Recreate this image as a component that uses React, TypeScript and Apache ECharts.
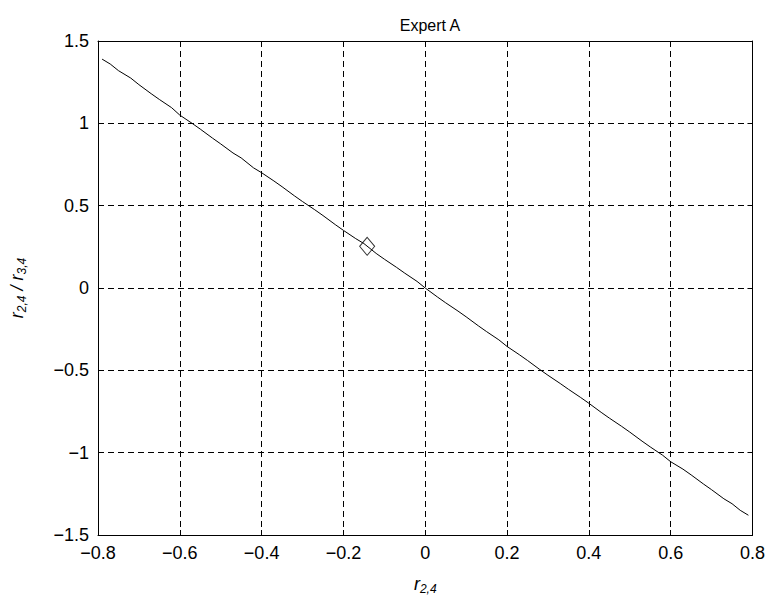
import React, { useEffect, useRef } from "react";
import * as echarts from "echarts";

const titleText = "Expert A";
const xTicks = [-0.8, -0.6, -0.4, -0.2, 0, 0.2, 0.4, 0.6, 0.8];
const yTicks = [-1.5, -1, -0.5, 0, 0.5, 1, 1.5];
const curveX = [-0.79, -0.77, -0.75, -0.72, -0.7, -0.67, -0.65, -0.62, -0.6, -0.57, -0.55, -0.52, -0.5, -0.47, -0.45, -0.42, -0.4, -0.37, -0.35, -0.32, -0.3, -0.27, -0.25, -0.22, -0.2, -0.17, -0.15, -0.12, -0.1, -0.07, -0.05, -0.02, 0, 0.03, 0.05, 0.08, 0.1, 0.13, 0.15, 0.18, 0.2, 0.23, 0.25, 0.28, 0.3, 0.33, 0.35, 0.38, 0.4, 0.43, 0.45, 0.48, 0.5, 0.53, 0.55, 0.58, 0.6, 0.63, 0.65, 0.68, 0.7, 0.73, 0.75, 0.77, 0.79];
const curveY = [1.39, 1.36, 1.32, 1.275, 1.235, 1.18, 1.145, 1.095, 1.05, 1.0, 0.965, 0.91, 0.875, 0.82, 0.79, 0.73, 0.7, 0.65, 0.615, 0.56, 0.525, 0.475, 0.44, 0.385, 0.35, 0.3, 0.27, 0.21, 0.175, 0.125, 0.09, 0.04, 0.0, -0.055, -0.09, -0.14, -0.175, -0.23, -0.265, -0.315, -0.355, -0.405, -0.44, -0.495, -0.53, -0.58, -0.615, -0.665, -0.7, -0.755, -0.79, -0.84, -0.875, -0.93, -0.965, -1.015, -1.055, -1.1, -1.135, -1.19, -1.225, -1.28, -1.31, -1.35, -1.38];
const markerX = [-0.142];
const markerY = [0.253];

const fmt = (v: number) => String(v).replace("-", "\u2212");

export default function App() {
  const ref = useRef<HTMLDivElement>(null);
  useEffect(() => {
    const chart = echarts.init(ref.current!, null, { renderer: "svg" });
    const font = "Liberation Sans, Arial, Helvetica, sans-serif";
    const axisLine = { show: true, onZero: false, lineStyle: { color: "#000", width: 1 } };
    const tick = { show: true, inside: true, length: 5, lineStyle: { color: "#000" } };
    const dash = { show: true, lineStyle: { color: "#000", type: [6, 4], width: 1 } };
    chart.setOption({
      animation: false,
      backgroundColor: "#fff",
      title: {
        text: titleText,
        left: 425,
        top: 12,
        textAlign: "center",
        textStyle: { fontFamily: font, fontSize: 16, fontWeight: "normal", color: "#000" },
      },
      grid: { left: 97, right: 15, top: 41, bottom: 64 },
      xAxis: [
        {
          type: "value",
          min: -0.8,
          max: 0.8,
          interval: 0.2,
          axisLine,
          axisTick: tick,
          axisLabel: {
            fontFamily: font,
            fontSize: 18,
            color: "#000",
            margin: 9,
            formatter: (v: number) => fmt(Math.round(v * 10) / 10),
          },
          splitLine: dash,
          name: "{a|r}{b|2,4}",
          nameLocation: "middle",
          nameGap: 38,
          nameTextStyle: {
            rich: {
              a: { fontFamily: font, fontStyle: "italic", fontSize: 18, color: "#000" },
              b: { fontFamily: font, fontStyle: "italic", fontSize: 12, color: "#000", padding: [10, 0, 0, 0] },
            },
          },
        },
        {
          type: "value",
          position: "top",
          min: -0.8,
          max: 0.8,
          interval: 0.2,
          axisLine,
          axisTick: tick,
          axisLabel: { show: false },
          splitLine: { show: false },
        },
      ],
      yAxis: [
        {
          type: "value",
          min: -1.5,
          max: 1.5,
          interval: 0.5,
          axisLine,
          axisTick: tick,
          axisLabel: {
            fontFamily: font,
            fontSize: 18,
            color: "#000",
            margin: 9,
            formatter: (v: number) => fmt(v),
          },
          splitLine: dash,
          name: "{a|r}{b|2,4}{a| / r}{b|3,4}",
          nameLocation: "middle",
          nameGap: 70,
          nameRotate: 90,
          nameTextStyle: {
            rich: {
              a: { fontFamily: font, fontStyle: "italic", fontSize: 18, color: "#000" },
              b: { fontFamily: font, fontStyle: "italic", fontSize: 12, color: "#000", padding: [10, 0, 0, 0] },
            },
          },
        },
        {
          type: "value",
          position: "right",
          min: -1.5,
          max: 1.5,
          interval: 0.5,
          axisLine,
          axisTick: tick,
          axisLabel: { show: false },
          splitLine: { show: false },
        },
      ],
      series: [
        {
          type: "line",
          data: curveX.map((x, i) => [x, curveY[i]]),
          showSymbol: false,
          lineStyle: { color: "#000", width: 1 },
          silent: true,
        },
        {
          type: "scatter",
          data: markerX.map((x, i) => [x, markerY[i]]),
          symbol: "diamond",
          symbolSize: [15, 18],
          itemStyle: { color: "none", borderColor: "#000", borderWidth: 1 },
        },
      ],
    });
    return () => chart.dispose();
  }, []);
  return <div ref={ref} style={{ width: 768, height: 600, position: "absolute", left: 0, top: 0 }} />;
}
